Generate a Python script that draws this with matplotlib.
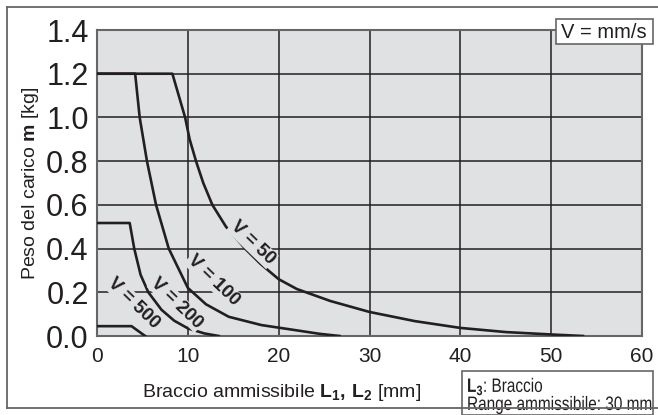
import numpy as np
import matplotlib.pyplot as plt
from matplotlib.lines import Line2D
from matplotlib.patches import Rectangle, PathPatch
from matplotlib.textpath import TextPath
from matplotlib.font_manager import FontProperties
from matplotlib.transforms import Affine2D

# --- Datos ---
v50_x = [0, 8.3, 9.0, 9.7, 10.2, 10.9, 11.7, 12.7, 14.2, 16.3, 18.0, 20.0, 22.0, 25.7,
         30.0, 35.0, 40.0, 45.0, 50.0, 53.5]
v50_y = [1.2, 1.2, 1.1, 1.0, 0.9, 0.8, 0.7, 0.6, 0.5, 0.4, 0.33, 0.26, 0.215, 0.16,
         0.11, 0.068, 0.037, 0.018, 0.007, 0.0]

v100_x = [0, 4.2, 4.7, 5.5, 6.5, 7.9, 10.0, 12.0, 14.5, 18.1, 21.8, 24.5, 26.7]
v100_y = [1.2, 1.2, 1.0, 0.8, 0.6, 0.4, 0.22, 0.145, 0.088, 0.05, 0.027, 0.01, 0.0]

v200_x = [0, 3.6, 4.1, 4.8, 5.65, 7.1, 8.5, 10.0, 11.8, 13.4]
v200_y = [0.517, 0.517, 0.4, 0.28, 0.2, 0.12, 0.07, 0.035, 0.012, 0.0]

v500_x = [0, 3.8, 5.3]
v500_y = [0.045, 0.045, 0.0]

curve_labels = ['V = 50', 'V = 100', 'V = 200', 'V = 500']
label_x = [17.1, 12.8, 8.8, 4.0]
label_y = [0.425, 0.256, 0.15, 0.149]

x_ticks = [0, 10, 20, 30, 40, 50, 60]
y_ticks = [0.0, 0.2, 0.4, 0.6, 0.8, 1.0, 1.2, 1.4]

plt.rcParams['font.family'] = ['Liberation Sans', 'DejaVu Sans']
plt.rcParams['mathtext.fontset'] = 'custom'
plt.rcParams['mathtext.rm'] = 'Liberation Sans'
plt.rcParams['mathtext.bf'] = 'Liberation Sans:bold'

fondo = '#e0e1e3'
gris = '#666666'
tinta = '#231f20'

fig = plt.figure(figsize=(6.58, 4.15), dpi=100)
ax = fig.add_axes([97 / 658, 1 - 336 / 415, 545 / 658, 306 / 415])
ax.set_facecolor(fondo)

for xs, ys in [(v50_x, v50_y), (v100_x, v100_y), (v200_x, v200_y), (v500_x, v500_y)]:
    ax.plot(xs, ys, color=tinta, lw=1.9, solid_joinstyle='round', zorder=3)

for txt, tx, ty in zip(curve_labels, label_x, label_y):
    ax.text(tx, ty, txt, rotation=-44, ha='center', va='center', fontsize=13.5,
            fontweight='bold', color=tinta, zorder=4, rotation_mode='anchor',
            bbox=dict(facecolor=fondo, edgecolor='none', pad=0.5))

ax.set_xlim(0, 60)
ax.set_ylim(0, 1.4)
ax.set_xticks(x_ticks)
ax.set_yticks(y_ticks)
ax.set_yticklabels([f'{v:.1f}' for v in y_ticks])
ax.tick_params(axis='y', length=0, pad=6, labelsize=22, labelcolor=tinta)
ax.tick_params(axis='x', length=0, pad=8, labelsize=15, labelcolor=tinta)
ax.grid(True, color=tinta, lw=1.1, zorder=1)
ax.set_axisbelow(True)
for s in ax.spines.values():
    s.set_color(gris)
    s.set_linewidth(1.5)

fig.text(31 / 658, 1 - 183 / 415, r'Peso del carico $\mathbf{m}$ [kg]', rotation=90,
         ha='center', va='center', fontsize=14, color=tinta)
fig.text(282 / 658, 1 - 397 / 415, r'Braccio ammissibile $\mathbf{L_1{,}\ L_2}$ [mm]',
         ha='center', va='baseline', fontsize=14, color=tinta)

# marco exterior
for xs, ys in [([7, 658], [408, 408]), ([7, 7], [7, 408]), ([7, 658], [7, 7])]:
    fig.add_artist(Line2D([x / 658 for x in xs], [1 - y / 415 for y in ys],
                          color=gris, lw=1.3))

# recuadro V = mm/s
fig.add_artist(Rectangle((556 / 658, 1 - 44 / 415), 97 / 658, 25 / 415,
                         transform=fig.transFigure, facecolor='white', edgecolor=gris, lw=1.2))
fig.text(604 / 658, 1 - 38 / 415, 'V = mm/s', ha='center', va='baseline', fontsize=14.5,
         color=tinta)

# recuadro L3 (texto estrecho)
fig.add_artist(Rectangle((462 / 658, 0), 191 / 658, 1 - 371 / 415, transform=fig.transFigure,
                         facecolor='white', edgecolor=gris, lw=1.2))
fp = FontProperties(family='Liberation Sans')
for s, ybase in [(r'$\mathbf{L}_\mathbf{3}$: Braccio', 392), ('Range ammissibile: 30 mm', 410)]:
    tp = TextPath((0, 0), s, size=14, prop=fp)
    tr = Affine2D().scale(0.79 / 72, 1 / 72).translate(467 / 100, (415 - ybase) / 100) \
        + fig.dpi_scale_trans
    fig.add_artist(PathPatch(tp, transform=tr, facecolor=tinta, edgecolor='none'))

fig.savefig('out.png', dpi=100)
